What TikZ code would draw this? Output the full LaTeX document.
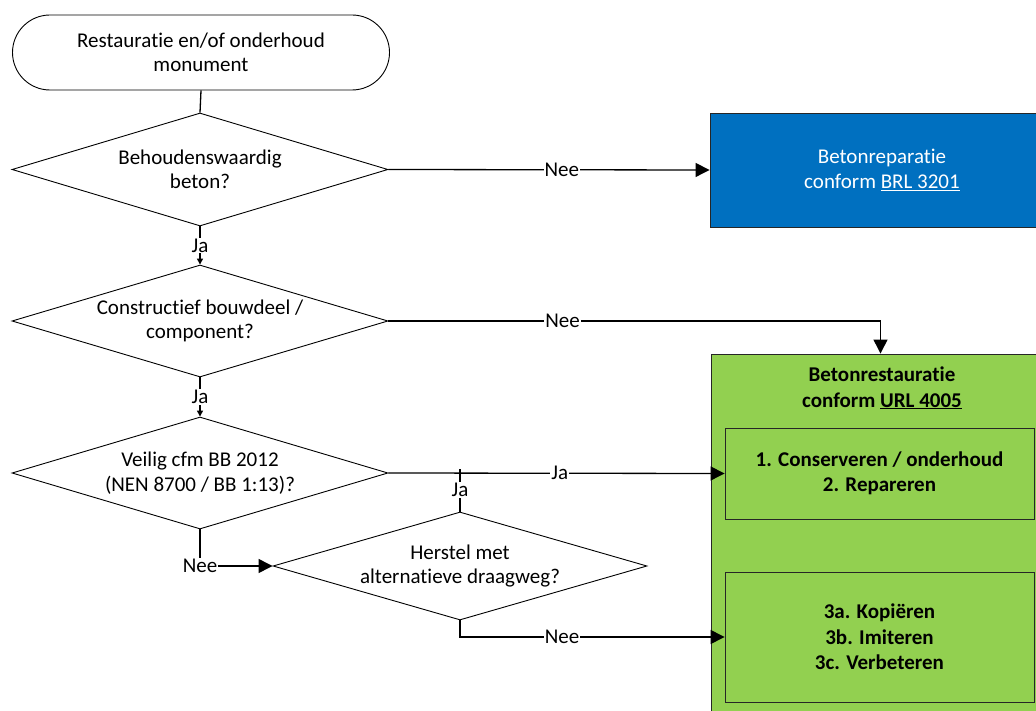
\documentclass[tikz,border=0pt]{standalone}
\usepackage{fontspec}
\setmainfont{Carlito}[Ligatures=NoCommon]
\usetikzlibrary{shapes.geometric,shapes.misc,arrows.meta}
\definecolor{bblue}{HTML}{0070C0}
\definecolor{lgreen}{HTML}{92D050}
\definecolor{edgegray}{HTML}{262626}
\begin{document}
\begin{tikzpicture}[x=1pt,y=-1pt,
  txt/.style={font=\fontsize{21}{24.5}\selectfont, align=center},
  btxt/.style={font=\bfseries\fontsize{21}{25.5}\selectfont, align=center},
  term/.style={rounded rectangle, draw, line width=0.9pt, minimum width=377pt, minimum height=75pt, inner sep=0pt, txt},
  dec/.style={diamond, draw, line width=0.9pt, inner xsep=-90pt, inner ysep=-22pt, txt},
  bluebox/.style={rectangle, draw=edgegray, line width=0.9pt, fill=bblue, text=white, inner sep=0pt, txt},
  greenbox/.style={rectangle, draw=edgegray, line width=0.9pt, fill=lgreen, inner sep=0pt, btxt},
  conn/.style={line width=1.3pt},
  bigarrow/.style={conn, -{Triangle[length=14pt,width=14pt]}},
  smallarrow/.style={conn, -{Triangle[length=6pt,width=6pt]}},
  lbl/.style={fill=white, inner sep=1pt, txt}
]
\useasboundingbox (0,0) rectangle (1036,711);
\clip (0,0) rectangle (1036,711);

% nodes
\node[term] (start) at (201,52.5) {Restauratie en/of onderhoud\\monument};
\node[dec, minimum width=376pt, minimum height=113pt] (d1) at (200,169.5) {Behoudenswaardig\\beton?};
\node[dec, minimum width=376pt, minimum height=112pt] (d2) at (200,321) {Constructief bouwdeel /\\component?};
\node[dec, minimum width=376pt, minimum height=112pt] (d3) at (200,473) {Veilig cfm BB 2012\\(NEN 8700 / BB 1:13)?};
\node[dec, minimum width=374pt, minimum height=108pt] (d4) at (460,566) {Herstel met\\alternatieve draagweg?};

\node[bluebox, minimum width=344pt, minimum height=114pt] (blue) at (882,170) {Betonreparatie\\conform \underline{BRL 3201}};

\node[greenbox, minimum width=339pt, minimum height=406pt] (green) at (880.5,557) {};
\node[btxt, inner sep=0pt] (gtitle) at (882,388) {Betonrestauratie\\conform \underline{URL 4005}};
\node[greenbox, minimum width=309pt, minimum height=91pt] (in1) at (879.5,473.5) {1. Conserveren / onderhoud\\2. Repareren};
\node[greenbox, minimum width=309pt, minimum height=130pt] (in2) at (879.5,637) {3a. Kopiëren\\3b. Imiteren\\3c. Verbeteren};

\coordinate (j) at (460,469);

% connectors
\draw[conn] (start.south) -- (d1.north);
\draw[bigarrow] (d1.east) -- node[lbl, pos=0.54] {Nee} (blue.west);
\draw[smallarrow] (d1.south) -- node[lbl] {Ja} (d2.north);
\draw[bigarrow] (d2.east) -| node[lbl, pos=0.177] {Nee} (green.north);
\draw[smallarrow] (d2.south) -- node[lbl] {Ja} (d3.north);
\draw[bigarrow] (d3.east) -- node[lbl, pos=0.51] {Ja} (in1.west);
\draw[bigarrow] (d3.south) |- node[lbl, pos=0.5] {Nee} (d4.west);
\draw[conn] (d4.north) -- node[lbl] {Ja} (j);
\draw[bigarrow] (d4.south) |- node[lbl, pos=0.693] {Nee} (in2.west);
\end{tikzpicture}
\end{document}
